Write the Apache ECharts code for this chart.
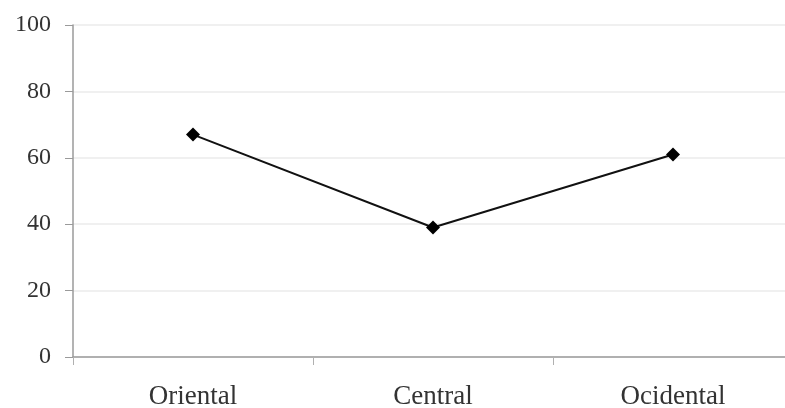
<!DOCTYPE html>
<html><head><meta charset="utf-8">
<script src="https://cdn.jsdelivr.net/npm/echarts@6/dist/echarts.min.js"></script>
<style>html,body{margin:0;padding:0;background:#fff;overflow:hidden}#c{width:800px;height:408px}</style>
</head><body><div id="c"></div>
<script>
const categories = ["Oriental", "Central", "Ocidental"];
const values = [67, 39, 61];
const yTicks = [0, 20, 40, 60, 80, 100];

const chart = echarts.init(document.getElementById('c'), null, {renderer: 'canvas'});
chart.setOption({
  animation: false,
  backgroundColor: '#ffffff',
  grid: {left: 73, right: 7, top: 25, bottom: 51, containLabel: false, outerBoundsMode: 'none'},
  xAxis: {
    type: 'category',
    data: categories,
    boundaryGap: true,
    axisLine: {lineStyle: {color: '#9a9a9a', width: 1.5}},
    axisTick: {show: true, length: 8, lineStyle: {color: '#b0b0b0'}},
    axisLabel: {color: '#333', fontFamily: 'Liberation Serif', fontSize: 27, margin: 26}
  },
  yAxis: {
    type: 'value',
    min: yTicks[0], max: yTicks[yTicks.length - 1], interval: 20,
    axisLine: {show: true, lineStyle: {color: '#9a9a9a', width: 1.5}},
    axisTick: {show: true, length: 8, lineStyle: {color: '#9a9a9a'}},
    axisLabel: {color: '#333', fontFamily: 'Liberation Serif', fontSize: 24, margin: 22},
    splitLine: {show: true, lineStyle: {color: '#f0f0f0', width: 2}}
  },
  series: [{
    type: 'line',
    data: values,
    symbol: 'diamond',
    symbolSize: 14,
    lineStyle: {color: '#111', width: 2},
    itemStyle: {color: '#000'}
  }]
});
</script></body></html>
